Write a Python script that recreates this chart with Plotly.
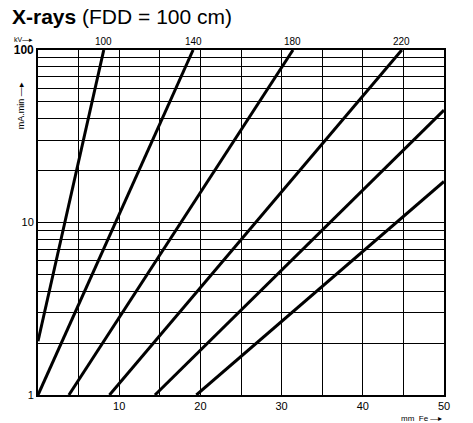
import plotly.graph_objects as go

# Data
kv = [100, 140, 180, 220, 260, 300]
x_start = [0.0, 0.0, 3.8, 8.8, 14.4, 19.5]   # mm Fe
y_start = [2.05, 1.0, 1.0, 1.0, 1.0, 1.0]     # mA min
x_end = [8.1, 19.1, 31.4, 44.8, 50.0, 50.0]
y_end = [100, 100, 100, 100, 44.8, 17.3]

x_ticks = [0, 5, 10, 15, 20, 25, 30, 35, 40, 45, 50]
x_tick_labels = ["", "", "10", "", "20", "", "30", "", "40", "", "50"]
y_ticks = [1, 2, 3, 4, 5, 6, 7, 8, 9, 10, 20, 30, 40, 50, 60, 70, 80, 90, 100]
y_tick_labels = ["1", "", "", "", "", "", "", "", "", "10", "", "", "", "", "", "", "", "",
                 "<b><span style='font-size:12px'>100</span></b>"]

fig = go.Figure()
for k, xs, ys, xe, ye in zip(kv, x_start, y_start, x_end, y_end):
    fig.add_trace(go.Scatter(x=[xs, xe], y=[ys, ye], mode="lines",
                             line=dict(color="black", width=3), showlegend=False,
                             hoverinfo="skip"))
    if ye >= 100:
        fig.add_annotation(x=xe, y=1, xref="x", yref="paper", text=str(k),
                           showarrow=False, yanchor="bottom", yshift=1,
                           font=dict(size=10, color="black"))
    else:
        fig.add_annotation(x=1, y=ye, xref="paper", yref="y", text=str(k),
                           showarrow=False, xanchor="left", xshift=8, yshift=9, yanchor="middle",
                           font=dict(size=10, color="black"))

fig.add_annotation(xref="paper", yref="paper", x=-0.065, y=1.0, text="kV\u2014\u25b8",
                   showarrow=False, xanchor="left", yanchor="bottom", yshift=5,
                   font=dict(size=7, color="black"))
fig.add_annotation(xref="paper", yref="paper", x=-0.042, y=0.84, text="mA.min \u2014\u25b8",
                   showarrow=False, textangle=-90, xanchor="center", yanchor="middle",
                   font=dict(size=9, color="black"))
fig.add_annotation(xref="paper", yref="paper", x=1.0, y=0, text="mm  Fe \u2014\u25b8",
                   showarrow=False, xanchor="right", yanchor="top", yshift=-17,
                   font=dict(size=8, color="black"))

fig.update_layout(
    width=473, height=423,
    margin=dict(l=38, r=29, t=50, b=28),
    paper_bgcolor="white", plot_bgcolor="white",
    font=dict(family="Liberation Sans, Arial, sans-serif", color="black"),
    title=dict(text="<b>X-rays</b> (FDD = 100 cm)", x=12 / 473, xanchor="left",
               xref="container", y=1 - 17 / 423, yref="container", yanchor="middle",
               font=dict(size=21, color="black")),
    xaxis=dict(range=[0, 50], tickvals=x_ticks, ticktext=x_tick_labels,
               showgrid=True, gridcolor="black", gridwidth=1, zeroline=False,
               showline=True, linecolor="black", linewidth=2, mirror=True,
               ticks="", tickfont=dict(size=11, color="black")),
    yaxis=dict(type="log", range=[0, 2], tickvals=y_ticks, ticktext=y_tick_labels,
               showgrid=True, gridcolor="black", gridwidth=1, zeroline=False,
               showline=True, linecolor="black", linewidth=2, mirror=True,
               ticks="", tickfont=dict(size=11, color="black")),
)

fig.write_html("out.html", config={"displayModeBar": False},
               post_script="document.body.style.margin='0';document.body.style.padding='0';")
